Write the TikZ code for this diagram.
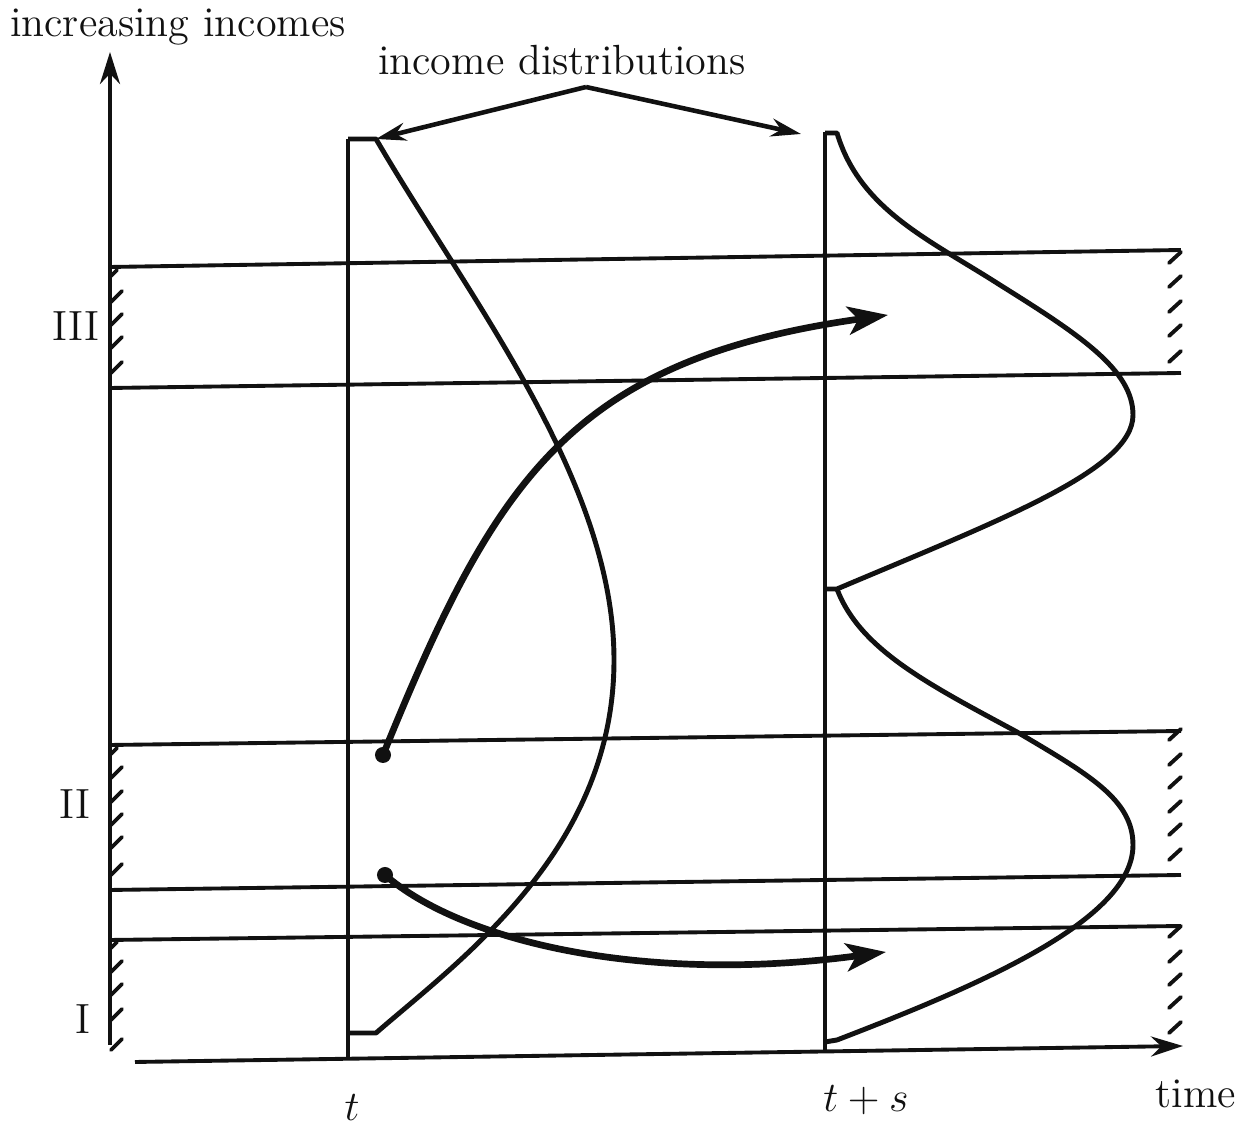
\documentclass[tikz,border=0pt]{standalone}
\usepackage{tikz}
\usetikzlibrary{arrows.meta}
\definecolor{ink}{HTML}{111111}
\tikzset{
  axisline/.style ={draw=ink, line width=1.1pt, -{Stealth[length=3.2mm,width=2mm]}},
  bandline/.style ={draw=ink, line width=1.1pt},
  timeline/.style ={draw=ink, line width=1.0pt},
  density/.style  ={draw=ink, line width=1.4pt, line join=round},
  move/.style     ={draw=ink, line width=1.9pt, -{Stealth[length=4mm,width=2.8mm,inset=1mm]}},
  pointer/.style  ={draw=ink, line width=1.3pt, -{Stealth[length=3mm,width=1.8mm]}},
  hatchmark/.style={draw=ink, line width=1.1pt, line cap=round},
  lbl/.style      ={text=ink, font=\large, inner sep=1pt},
  dot/.style      ={fill=ink, circle, inner sep=0pt, minimum size=1.6mm},
}

\begin{document}
\begin{tikzpicture}[x=0.01cm, y=-0.01cm]
  \useasboundingbox (0,0) rectangle (1244,1125);

  % axes
  \coordinate (ybot)   at (110,1045);
  \coordinate (ytop)   at (110,52);
  \coordinate (xleft)  at (135,1062);
  \coordinate (xright) at (1183,1046);
  \draw[axisline] (ybot) -- (ytop);
  \draw[axisline] (xleft) -- (xright);
  \node[lbl] (yname) at (178,27)    {increasing incomes};
  \node[lbl] (xname) at (1196,1094) {time};

  % the two dates
  \draw[timeline] (348,139) -- (348,1058);
  \draw[timeline] (825,132) -- (825,1051);
  \node[lbl] (tnow)   at (352,1108) {$t$};
  \node[lbl] (tlater) at (866,1100) {$t+s$};

  % income classes
  \foreach \yl/\yr in {267/250, 388/373, 745/731, 890/875, 940/926}
    \draw[bandline] (110,\yl) -- (1181,\yr);
  \foreach \y in {302,325,348,373, 778,802,825,848,875, 972,995,1020,1050}
    \draw[hatchmark] (111,\y) -- ++(11,-11);
  \foreach \y in {276,754,948}
    \draw[hatchmark] (111,\y) -- ++(6,-6);
  \foreach \y in {263,287,312,336,362, 740,765,788,812,835,860, 937,962,985,1008,1033}
    \draw[hatchmark] (1169,\y) -- ++(12,-11);
  \node[lbl] (classIII) at (76,326)  {III};
  \node[lbl] (classII)  at (75,804)  {II};
  \node[lbl] (classI)   at (83,1019) {I};

  % distribution at t
  \coordinate (tTop) at (376,139);
  \draw[density] (348,139) -- (tTop)
    .. controls (470,300) and (614,480) .. (614,660)
    .. controls (614,850) and (460,960) .. (376,1033) -- (348,1033);

  % distribution at t+s
  \draw[density] (825,133) -- (837,133)
    .. controls (860,210) and (930,240) .. (1000,285)
    .. controls (1080,335) and (1133,370) .. (1133,415)
    .. controls (1133,470) and (1000,520) .. (837,589) -- (825,589);
  \draw[density] (837,589)
    .. controls (860,650) and (930,685) .. (1017,732)
    .. controls (1090,775) and (1133,800) .. (1133,845)
    .. controls (1133,920) and (980,985) .. (837,1040) -- (825,1042);

  % mobility
  \node[dot] (hiStart) at (383,755) {};
  \node[dot] (loStart) at (385,875) {};
  \coordinate (hiEnd) at (888,315);
  \coordinate (loEnd) at (886,952);
  \draw[move] (hiStart.center) .. controls (495,480) and (570,360) .. (hiEnd);
  \draw[move] (loStart.center) .. controls (460,940) and (640,985) .. (loEnd);

  % label of the two distributions
  \node[lbl] (distname) at (562,60) {income distributions};
  \coordinate (apex) at (586,87);
  \coordinate (sTag) at (801,134);
  \draw[pointer] (apex) -- (tTop);
  \draw[pointer] (apex) -- (sTag);
\end{tikzpicture}
\end{document}
